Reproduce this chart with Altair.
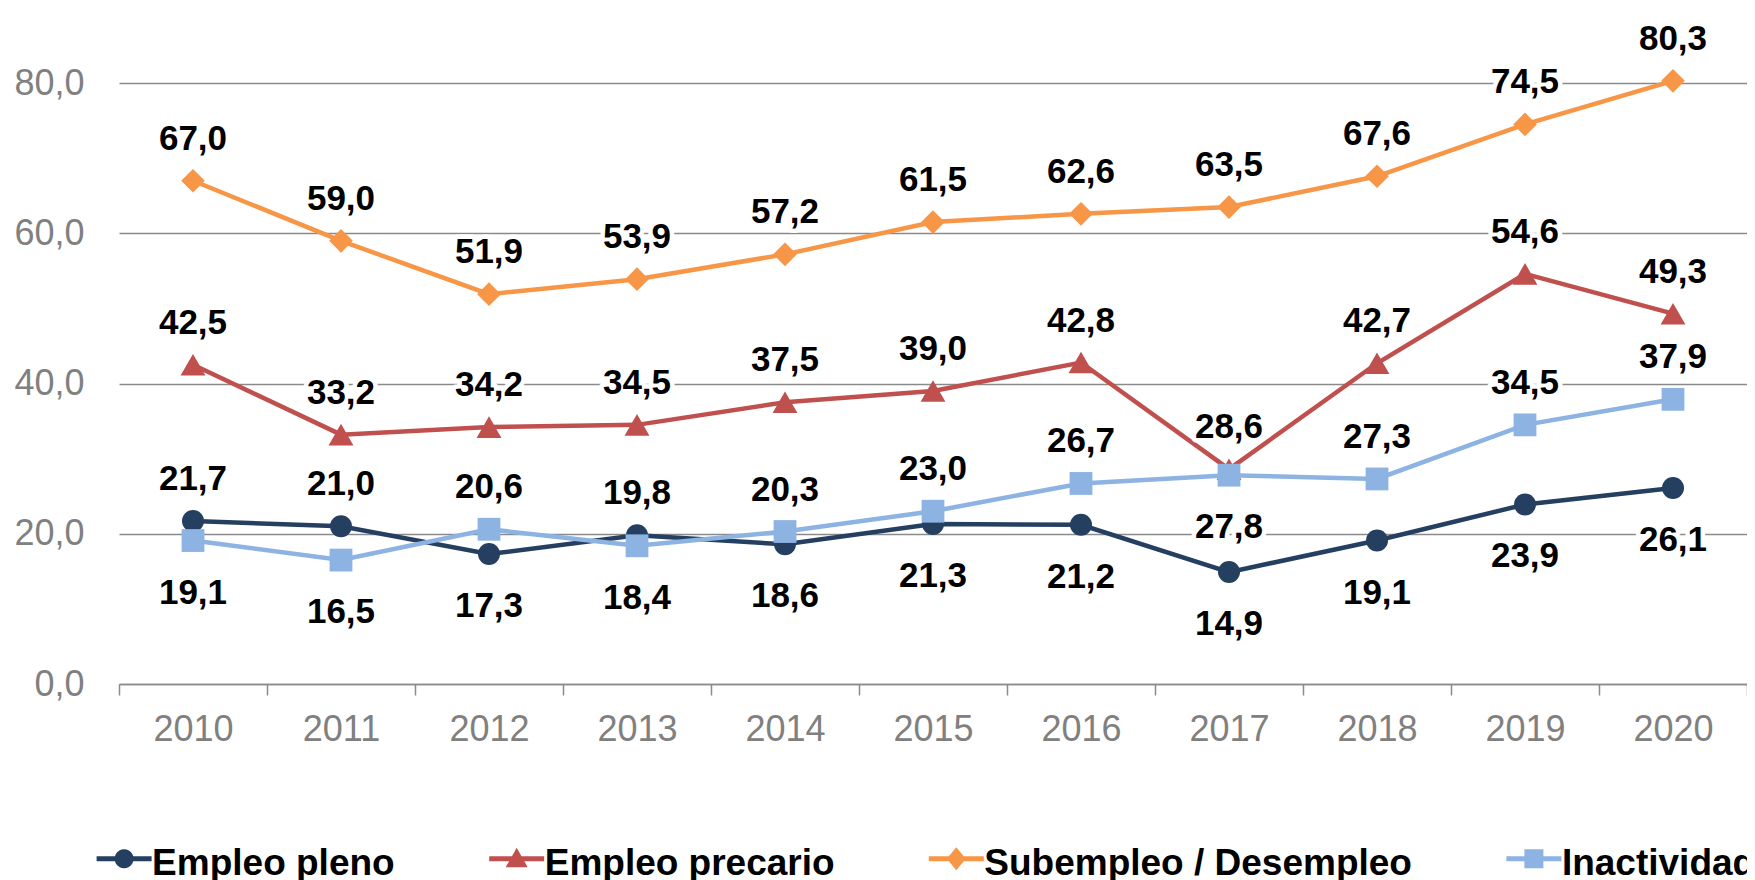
import math
import altair as alt
import pandas as pd

years = ["2010", "2011", "2012", "2013", "2014", "2015", "2016", "2017", "2018", "2019", "2020"]
series_names = ["Empleo pleno", "Empleo precario", "Subempleo / Desempleo", "Inactividad"]
empleo_pleno = [21.7, 21.0, 17.3, 19.8, 18.6, 21.3, 21.2, 14.9, 19.1, 23.9, 26.1]
empleo_precario = [42.5, 33.2, 34.2, 34.5, 37.5, 39.0, 42.8, 28.6, 42.7, 54.6, 49.3]
subempleo = [67.0, 59.0, 51.9, 53.9, 57.2, 61.5, 62.6, 63.5, 67.6, 74.5, 80.3]
inactividad = [19.1, 16.5, 20.6, 18.4, 20.3, 23.0, 26.7, 27.8, 27.3, 34.5, 37.9]
# label placement (above / below the marker)
pos_pleno = ["above", "above", "below", "above", "below", "below", "below", "below", "below", "below", "below"]
pos_precario = ["above"] * 11
pos_subempleo = ["above"] * 11
pos_inactividad = ["below", "below", "above", "below", "above", "above", "above", "below", "above", "above", "above"]

colors = ["#243F60", "#C0504D", "#F79646", "#8DB3E2"]
marker_shapes = ["circle", "triangle-up", "diamond", "square"]
marker_sizes = [484, 620, 560, 520]

values = [empleo_pleno, empleo_precario, subempleo, inactividad]
positions = [pos_pleno, pos_precario, pos_subempleo, pos_inactividad]

rows = []
for s, vals, poss in zip(series_names, values, positions):
    for y, v, p in zip(years, vals, poss):
        rows.append({"year": y, "serie": s, "value": v, "pos": p})
df = pd.DataFrame(rows)

FONT = "Liberation Sans"
GRAY_LINE = "#8A8A8A"
GRAY_TEXT = "#808080"

OY = -0.5  # small upward shift of the legend glyphs


def circle_poly(r, n=24):
    pts = []
    for i in range(n):
        a = 2 * math.pi * i / n
        pts.append(f"{r*math.cos(a):.3f},{r*math.sin(a) + OY:.3f}")
    return "M" + "L".join(pts) + "Z"


def poly(points):
    return "M" + "L".join(f"{x:.3f},{y + OY:.3f}" for x, y in points) + "Z"


# legend glyph: short thick line with the marker in the middle (all filled, same winding)
LINE = poly([(-2.75, -0.25), (2.75, -0.25), (2.75, 0.25), (-2.75, 0.25)])
legend_paths = [
    LINE + circle_poly(0.95),
    LINE + poly([(0, -1.1), (1.1, 0.85), (-1.1, 0.85)]),
    LINE + poly([(0, -1.15), (0.95, 0), (0, 1.15), (-0.95, 0)]),
    LINE + poly([(-0.95, -0.95), (0.95, -0.95), (0.95, 0.95), (-0.95, 0.95)]),
]

color_scale = alt.Scale(domain=series_names, range=colors)

x_enc = alt.X(
    "year:O",
    scale=alt.Scale(type="band", paddingInner=0, paddingOuter=0),
    sort=years,
    axis=alt.Axis(
        title=None,
        labelAngle=0,
        labelFont=FONT,
        labelFontSize=36,
        labelColor=GRAY_TEXT,
        labelPadding=17,
        tickSize=11,
        tickColor=GRAY_LINE,
        tickWidth=1.5,
        tickBand="extent",
        domainColor=GRAY_LINE,
        domainWidth=1.5,
        grid=False,
    ),
)
y_enc = alt.Y(
    "value:Q",
    scale=alt.Scale(domain=[0, 90], nice=False),
    axis=alt.Axis(
        title=None,
        values=[0, 20, 40, 60, 80],
        labelExpr="replace(format(datum.value, '.1f'), '.', ',')",
        labelFont=FONT,
        labelFontSize=36,
        labelColor=GRAY_TEXT,
        labelPadding=35,
        ticks=False,
        domain=False,
        grid=True,
        gridColor=GRAY_LINE,
        gridWidth=1.5,
    ),
)

base = alt.Chart(df).encode(x=x_enc, y=y_enc)

layers = []
for s, c, shp, sz in zip(series_names, colors, marker_shapes, marker_sizes):
    sub = base.transform_filter(alt.datum.serie == s)
    layers.append(sub.mark_line(strokeWidth=4.5, color=c))
    layers.append(sub.mark_point(filled=True, shape=shp, size=sz, opacity=1, color=c))

lab = base.transform_calculate(
    label="replace(format(datum.value, '.1f'), '.', ',')"
)
text_style = dict(font=FONT, fontSize=35, fontWeight="bold", baseline="middle", align="center")
for p, dy in [("above", -42), ("below", 52)]:
    sub = lab.transform_filter(alt.datum.pos == p)
    layers.append(
        sub.mark_text(dy=dy, color="white", stroke="white", strokeWidth=9, strokeJoin="round", **text_style).encode(
            text="label:N"
        )
    )
    layers.append(
        sub.mark_text(dy=dy, color="black", **text_style).encode(text="label:N")
    )

legend_props = dict(
    title=None,
    orient="none",
    legendX=-13.4,
    legendY=837,
    direction="horizontal",
    columns=4,
    columnPadding=93.6,
    labelFont=FONT,
    labelFontSize=37,
    labelFontWeight="bold",
    labelColor="black",
    labelOffset=9.5,
    labelLimit=0,
    symbolSize=400,
    symbolStrokeWidth=0,
    symbolOpacity=1,
    padding=0,
)

legend_layer = (
    alt.Chart(df)
    .mark_point(filled=True, opacity=0)
    .encode(
        x=x_enc,
        y=y_enc,
        color=alt.Color("serie:N", scale=color_scale, legend=alt.Legend(**legend_props)),
        shape=alt.Shape(
            "serie:N",
            scale=alt.Scale(domain=series_names, range=legend_paths),
            legend=alt.Legend(**legend_props),
        ),
    )
)
layers.insert(0, legend_layer)

chart = (
    alt.layer(*layers)
    .properties(
        width=1628,
        height=676,
        autosize=alt.AutoSizeParams(type="none"),
        padding={"left": 111, "top": 0, "right": 0, "bottom": 196},
        background="white",
    )
    .configure_view(stroke=None)
)

chart.save("out.html", embed_options={"renderer": "svg", "actions": False})
